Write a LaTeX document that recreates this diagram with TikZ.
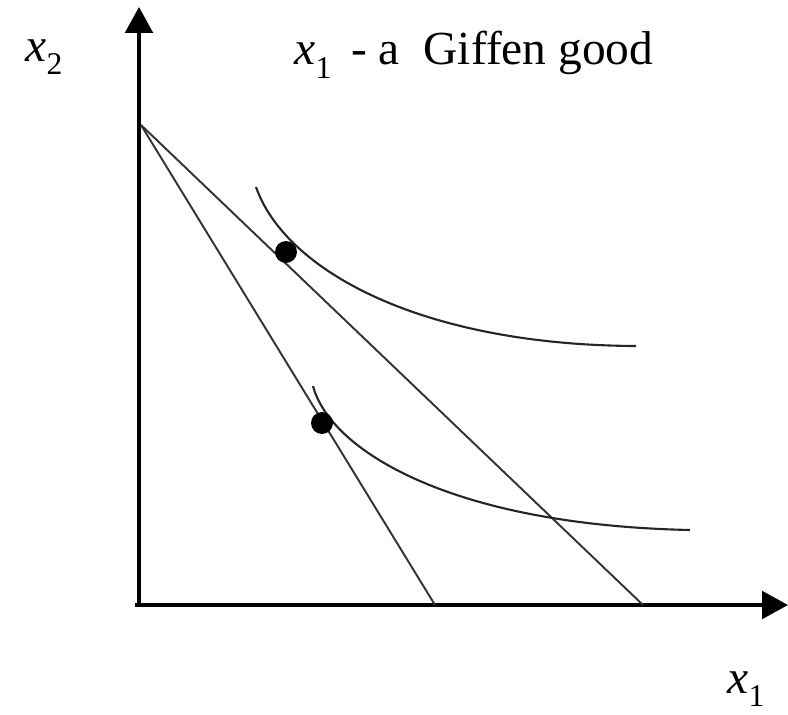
\documentclass[tikz,border=0pt]{standalone}
\usepackage{fontspec}
\setmainfont{Liberation Serif}
\usetikzlibrary{arrows.meta}

\tikzset{
	axis/.style={line width=2.2pt, -{Triangle[length=0.52cm, width=0.55cm]}},
	budget/.style={line width=1.1pt, black!80},
	indiff/.style={line width=1.2pt, black!85},
	choice/.style={circle, fill=black, inner sep=0pt, minimum size=0.44cm},
	lbl/.style={font=\fontsize{27}{32}\selectfont, inner sep=0pt}
}
\newcommand{\goodvar}[1]{\textit{x}\raisebox{-0.28em}{\fontsize{18}{18}\selectfont #1}}

\begin{document}
\begin{tikzpicture}
	\useasboundingbox (-2.78,-2.18) rectangle (12.98,12.1);

	% axes
	\coordinate (O) at (0,0);
	\coordinate (Xend) at (12.98,0);
	\coordinate (Yend) at (0,11.96);
	\draw[axis] (-0.08,0) -- (Xend);
	\draw[axis] (0,-0.04) -- (Yend);
	\node[lbl] (xtwo) at (-1.9,10.96) {\goodvar{2}};
	\node[lbl] (xone) at (12.14,-1.68) {\goodvar{1}};
	\node[lbl, anchor=base] (title) at (6.7,10.8) {\goodvar{1}\ \,- a\ \ Giffen good};

	% budget lines
	\coordinate (A) at (0.04,9.6);
	\coordinate (B1) at (10.08,0);
	\coordinate (B2) at (5.92,0);
	\draw[budget] (A) -- (B1);
	\draw[budget] (A) -- (B2);

	% indifference curves
	\coordinate (U1) at (2.34,8.36); \coordinate (U2) at (9.94,5.18);
	\coordinate (L1) at (3.48,4.38); \coordinate (L2) at (11.02,1.5);
	\draw[indiff] (U1) .. controls (2.92,6.7) and (5.62,5.2) .. (U2);
	\draw[indiff] (L1) .. controls (3.82,3.1) and (6.22,1.6) .. (L2);

	% optimal bundles
	\node[choice] (old) at (2.94,7.06) {};
	\node[choice] (new) at (3.66,3.64) {};
\end{tikzpicture}
\end{document}
